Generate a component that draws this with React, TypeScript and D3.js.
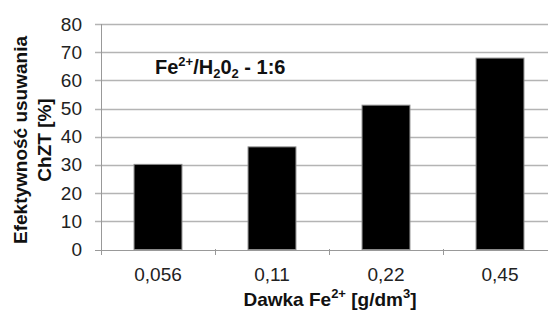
import React from 'react';
import * as d3 from 'd3';

// dane
const categories = ['0,056', '0,11', '0,22', '0,45'];
const values = [30.2, 36.4, 51.2, 67.9];
const yTicks = [0, 10, 20, 30, 40, 50, 60, 70, 80];

const svgWidth = 548, svgHeight = 313;
const margin = { top: 24, left: 101, bottom: 64 };
const plotRight = 557; // wykres przycięty z prawej strony
const plotBottom = svgHeight - margin.bottom;

const App = () => {
  const xScale = d3.scaleBand<string>()
    .domain(categories)
    .range([margin.left, plotRight])
    .paddingInner(0.58)
    .paddingOuter(0.29);

  const yScale = d3.scaleLinear()
    .domain([0, 80])
    .range([plotBottom + 0.5, margin.top]);

  const step = xScale.step();
  const font = 'Arial, "Liberation Sans", sans-serif';

  return <svg
    width={svgWidth}
    height={svgHeight}
    style={{ position: 'absolute', left: 0, top: 0, background: '#fff' }}
    fontFamily={font}
  >
    {/* siatka */}
    <g>
      {yTicks.map(t => <g key={t}>
        <line
          x1={margin.left - 6}
          x2={plotRight}
          y1={Math.round(yScale(t)) + 0.5}
          y2={Math.round(yScale(t)) + 0.5}
          stroke={t === 0 ? '#999' : '#b4b4b4'}
          strokeWidth={t === 0 ? 1 : 1.5}
        />
        <text
          x={82}
          y={yScale(t)}
          textAnchor='end'
          dominantBaseline='central'
          fontSize={19}
          fill='#222'
        >{t}</text>
      </g>)}
    </g>
    {/* oś y */}
    <line x1={margin.left + 0.5} x2={margin.left + 0.5} y1={margin.top} y2={plotBottom + 1} stroke='#999' />
    {/* znaczniki osi x */}
    {d3.range(categories.length + 1).map(i => {
      const x = Math.round(margin.left + i * step) + 0.5;
      return <line key={i} x1={x} x2={x} y1={plotBottom} y2={plotBottom + 6} stroke='#999' />;
    })}
    {/* słupki */}
    {categories.map((c, i) => <rect
      key={c}
      x={xScale(c)}
      y={yScale(values[i])}
      width={xScale.bandwidth()}
      height={yScale(0) - yScale(values[i])}
      fill='#000'
      stroke='#8a8a8a'
      strokeWidth={1}
    />)}
    {/* etykiety kategorii */}
    {categories.map(c => <text
      key={c}
      x={(xScale(c) ?? 0) + xScale.bandwidth() / 2}
      y={274}
      textAnchor='middle'
      dominantBaseline='central'
      fontSize={19}
      fill='#222'
    >{c}</text>)}
    {/* tytuł osi x */}
    <text x={330} y={306} textAnchor='middle' fontSize={19} fontWeight='bold' fill='#111'>
      Dawka Fe<tspan fontSize={13} dy={-8}>2+</tspan><tspan dy={8}> [g/dm</tspan><tspan fontSize={13} dy={-8}>3</tspan><tspan dy={8}>]</tspan>
    </text>
    {/* tytuł osi y */}
    <g transform='translate(27, 140) rotate(-90)'>
      <text textAnchor='middle' fontSize={19} fontWeight='bold' fill='#111'>Efektywność usuwania</text>
      <text y={24} textAnchor='middle' fontSize={19} fontWeight='bold' fill='#111'>ChZT [%]</text>
    </g>
    {/* opis */}
    <text x={155} y={74} fontSize={20} fontWeight='bold' fill='#111'>
      Fe<tspan fontSize={13} dy={-8}>2+</tspan><tspan dy={8}>/H</tspan><tspan fontSize={13} dy={4}>2</tspan><tspan dy={-4}>0</tspan><tspan fontSize={13} dy={4}>2</tspan><tspan dy={-4}> - 1:6</tspan>
    </text>
  </svg>;
};

export default App;
